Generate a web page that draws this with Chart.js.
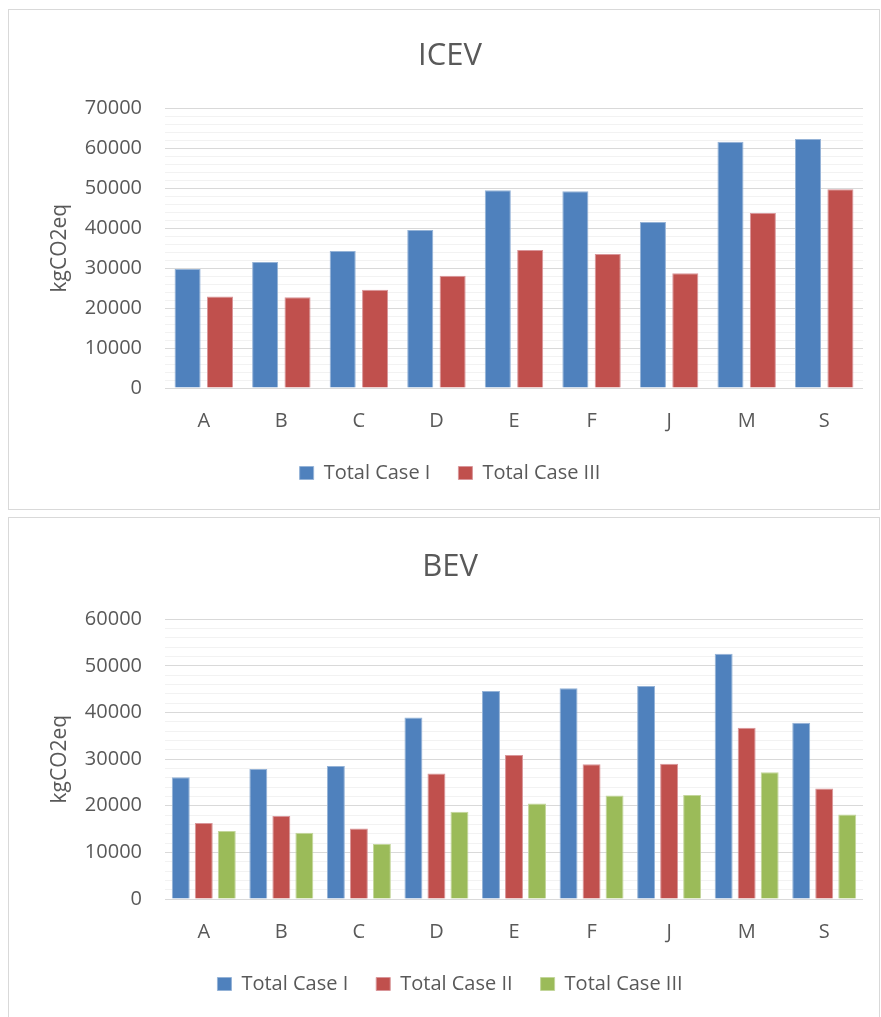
<!DOCTYPE html>
<html>
<head>
<meta charset="utf-8">
<title>ICEV / BEV totals</title>
<script src="https://cdn.jsdelivr.net/npm/chart.js@4.4.1/dist/chart.umd.min.js"></script>
<style>
  html, body { margin: 0; padding: 0; background: #ffffff; }
  body { width: 881px; height: 1017px; position: relative; overflow: hidden; }
  .panel { position: absolute; left: 8px; width: 872px; border: 1px solid #d9d9d9; box-sizing: border-box; background: #fff; }
  #panelTop { top: 9px; height: 501px; }
  #panelBottom { top: 517px; height: 504px; }
  canvas { display: block; }
</style>
</head>
<body>
<div class="panel" id="panelTop"><canvas id="icevChart" width="870" height="499"></canvas></div>
<div class="panel" id="panelBottom"><canvas id="bevChart" width="870" height="502"></canvas></div>
<script>
// Vehicle categories shown along the x axis
const categories = ['A', 'B', 'C', 'D', 'E', 'F', 'J', 'M', 'S'];

// ICEV totals (kgCO2eq)
const icevCaseI   = [29800, 31500, 34300, 39500, 49500, 49200, 41500, 61600, 62300];
const icevCaseIII = [22900, 22700, 24600, 28100, 34500, 33500, 28700, 43800, 49700];

// BEV totals (kgCO2eq)
const bevCaseI   = [26100, 27900, 28500, 38900, 44600, 45200, 45700, 52600, 37800];
const bevCaseII  = [16300, 17800, 15100, 26900, 30900, 28900, 29000, 36700, 23700];
const bevCaseIII = [14600, 14200, 11800, 18700, 20500, 22200, 22300, 27200, 18100];

// Axis settings
const icevMax = 70000;
const bevMax = 60000;
const majorStep = 10000;
const minorStep = 2000;
const axisTitle = 'kgCO2eq';

const BLUE = '#4F81BD', RED = '#C0504D', GREEN = '#9BBB59';
const BLUE_EDGE = '#95b3d7', RED_EDGE = '#d9969a', GREEN_EDGE = '#c3d69b';

Chart.defaults.font.family = "'Open Sans', 'DejaVu Sans', sans-serif";
Chart.defaults.color = '#595959';

function barSet(label, data, color, edge, catPct, barPct) {
  return {
    label, data,
    backgroundColor: color,
    borderColor: edge,
    borderWidth: 1,
    categoryPercentage: catPct,
    barPercentage: barPct
  };
}

function makeOptions(title, yMax, titlePad) {
  return {
    responsive: false,
    animation: false,
    devicePixelRatio: 1,
    layout: { padding: { left: 28, right: 16, top: 0, bottom: 16 } },
    plugins: {
      title: {
        display: true,
        text: title,
        color: '#595959',
        font: { size: 31, weight: 'normal' },
        padding: titlePad
      },
      legend: {
        position: 'bottom',
        labels: {
          boxWidth: 14,
          boxHeight: 13,
          padding: 28,
          color: '#595959',
          font: { size: 20 }
        }
      },
      tooltip: { enabled: false }
    },
    scales: {
      x: {
        grid: { display: false },
        border: { display: false },
        ticks: { padding: 13, font: { size: 20 }, color: '#595959' },
        afterFit: s => { s.height = 47; }
      },
      y: {
        min: 0,
        max: yMax,
        border: { display: false },
        grid: {
          drawTicks: false,
          lineWidth: 1,
          color: c => (c.tick && c.tick.value % majorStep === 0) ? '#d9d9d9' : '#f2f2f2'
        },
        ticks: {
          stepSize: minorStep,
          autoSkip: false,
          maxTicksLimit: 100,
          padding: 23,
          font: { size: 20 },
          color: '#595959',
          callback: v => (v % majorStep === 0 ? String(v) : '')
        },
        title: {
          display: true,
          text: axisTitle,
          color: '#595959',
          font: { size: 21 },
          padding: { top: 10, bottom: 10 }
        },
        afterFit: s => { s.width = 128; }
      }
    }
  };
}

new Chart(document.getElementById('icevChart'), {
  type: 'bar',
  data: {
    labels: categories,
    datasets: [
      barSet('Total Case I', icevCaseI, BLUE, BLUE_EDGE, 0.835, 0.805),
      barSet('Total Case III', icevCaseIII, RED, RED_EDGE, 0.835, 0.805)
    ]
  },
  options: makeOptions('ICEV', icevMax, { top: 28, bottom: 33 })
});

new Chart(document.getElementById('bevChart'), {
  type: 'bar',
  data: {
    labels: categories,
    datasets: [
      barSet('Total Case I', bevCaseI, BLUE, BLUE_EDGE, 0.89, 0.78),
      barSet('Total Case II', bevCaseII, RED, RED_EDGE, 0.89, 0.78),
      barSet('Total Case III', bevCaseIII, GREEN, GREEN_EDGE, 0.89, 0.78)
    ]
  },
  options: makeOptions('BEV', bevMax, { top: 31, bottom: 33 })
});
</script>
</body>
</html>
